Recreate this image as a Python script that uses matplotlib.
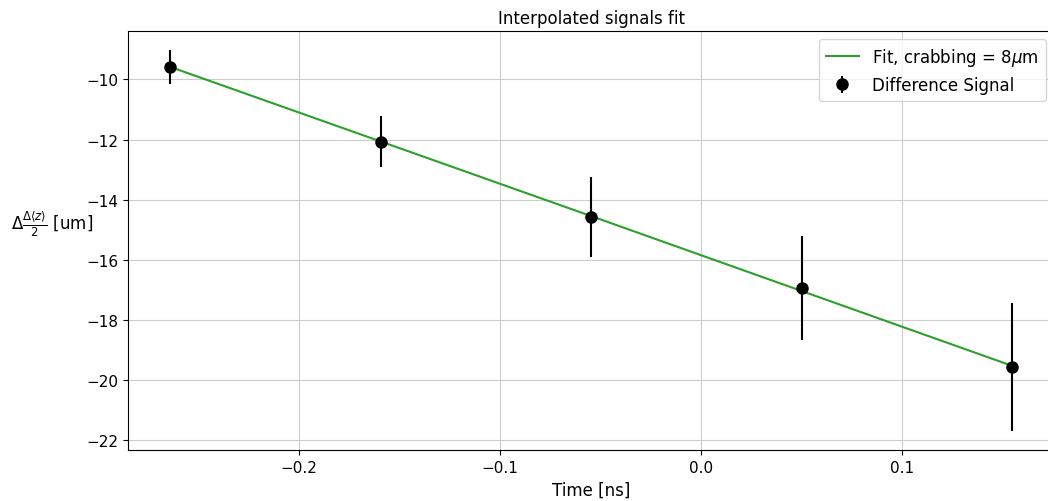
import matplotlib
matplotlib.use("Agg")
import matplotlib.pyplot as plt

# Values
time_ns = [-0.264, -0.159, -0.0545, 0.050, 0.1546]
diff_signal = [-9.59, -12.07, -14.57, -16.93, -19.57]
diff_err = [0.57, 0.85, 1.33, 1.73, 2.13]
fit_values = [-9.58, -12.07, -14.55, -17.04, -19.53]

fig = plt.figure(figsize=(10.48, 5.02), dpi=100)
ax = fig.add_axes([128 / 1048, 51 / 502, (1054 - 128) / 1048, (451 - 32) / 502])

ax.plot(time_ns, fit_values, color='#2ca02c', label=r'Fit, crabbing = 8$\mu$m')
ax.errorbar(time_ns, diff_signal, yerr=diff_err, fmt='ko', markersize=8,
            label='Difference Signal')

ax.set_title('Interpolated signals fit', fontsize=12)
ax.set_xlabel('Time [ns]', fontsize=12)
ax.set_ylabel(r'$\Delta\frac{\Delta\langle z\rangle}{2}$ [um]', rotation=0,
              ha='right', va='center', fontsize=12)
ax.yaxis.set_label_coords(-0.038, 0.54)
ax.tick_params(labelsize=11)
ax.grid(True, color='#cccccc')
ax.legend(loc='upper right', fontsize=12)

fig.savefig('out.png', dpi=100)
